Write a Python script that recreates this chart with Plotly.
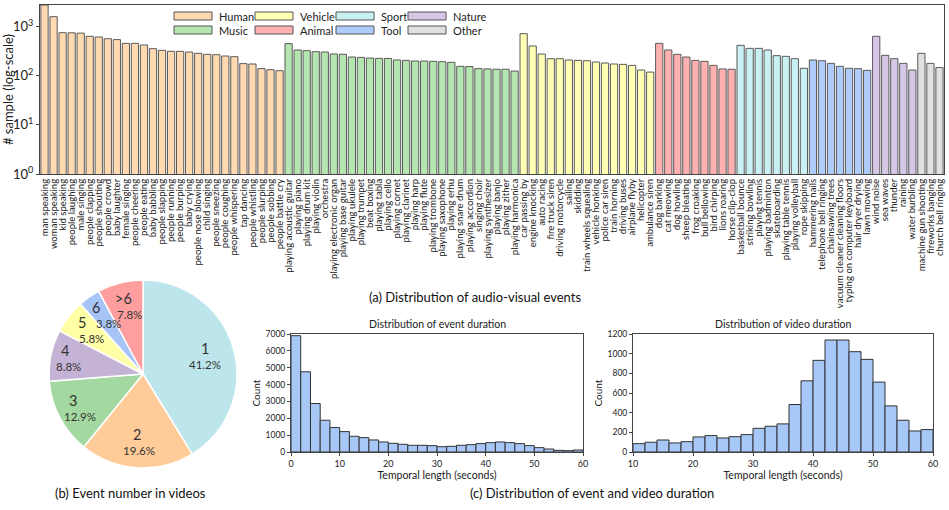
import math
import plotly.graph_objects as go

# ---------------- data ----------------
groups = ["Human", "Music", "Vehicle", "Animal", "Sport", "Tool", "Nature", "Other"]
group_colors = ["#FFD9B0", "#B5E6B1", "#FFFFB3", "#FFB1B1", "#C9F1F4", "#AFCBFA", "#D6C7E7", "#E0E0E0"]

human_events = ["man speaking", "woman speaking", "kid speaking", "people laughing", "male singing",
                "people clapping", "people shouting", "people crowd", "baby laughter", "female singing",
                "people cheering", "people eating", "baby babbling", "people slapping", "people running",
                "people burping", "baby crying", "people nose blowing", "child singing", "people sneezing",
                "people coughing", "people whispering", "tap dancing", "people whistling", "people slurping",
                "people sobbing", "people battle cry"]
human_counts = [2770, 1600, 755, 750, 740, 637, 617, 570, 545, 458, 458, 424, 357, 330, 315,
                315, 305, 287, 274, 269, 253, 245, 177, 174, 140, 133, 127]

music_events = ["playing acoustic guitar", "playing piano", "playing drum kit", "playing violin", "orchestra",
                "playing electronic organ", "playing base guitar", "playing ukulele", "playing trumpet",
                "beat boxing", "playing tabla", "playing cello", "playing cornet", "playing clarinet",
                "playing harp", "playing flute", "playing trombone", "playing saxophone", "playing erhu",
                "playing snare drum", "playing accordion", "singing choir", "playing synthesizer",
                "playing banjo", "playing zither", "playing harmonica"]
music_counts = [451, 335, 325, 310, 305, 278, 274, 241, 237, 230, 226, 226, 210, 206,
                200, 200, 197, 194, 188, 156, 154, 140, 138, 136, 136, 125]

vehicle_events = ["car passing by", "engine knocking", "auto racing", "fire truck siren", "driving motorcycle",
                  "sailing", "skidding", "train wheels squealing", "vehicle honking", "police car siren",
                  "train horning", "driving buses", "airplane flyby", "helicopter", "ambulance siren"]
vehicle_counts = [721, 405, 278, 223, 223, 210, 206, 203, 191, 182, 174, 171, 163, 131, 119]

animal_events = ["dog barking", "cat meowing", "dog howling", "sheep bleating", "frog croaking",
                 "bull bellowing", "bird chirping", "lions roaring", "horse clip-clop"]
animal_counts = [458, 335, 274, 241, 206, 197, 163, 138, 136]

sport_events = ["basketball bounce", "striking bowling", "playing tennis", "playing badminton",
                "skateboarding", "playing table tennis", "playing volleyball", "rope skipping"]
sport_counts = [417, 362, 362, 335, 257, 249, 223, 142]

tool_events = ["hammering nails", "telephone bell ringing", "chainsawing trees",
               "vacuum cleaner cleaning floors", "typing on computer keyboard", "hair dryer drying",
               "lawn mowing"]
tool_counts = [210, 203, 179, 156, 142, 140, 129]

nature_events = ["wind noise", "sea waves", "thunder", "raining", "water burbling"]
nature_counts = [637, 261, 223, 179, 131]

other_events = ["machine gun shooting", "fireworks banging", "church bell ringing"]
other_counts = [287, 179, 147]

group_events = [human_events, music_events, vehicle_events, animal_events,
                sport_events, tool_events, nature_events, other_events]
group_counts = [human_counts, music_counts, vehicle_counts, animal_counts,
                sport_counts, tool_counts, nature_counts, other_counts]

pie_labels = ["1", "2", "3", "4", "5", "6", ">6"]
pie_values = [41.2, 19.6, 12.9, 8.8, 5.8, 3.8, 7.8]
pie_colors = ["#BDE6EC", "#FFCC99", "#A3D9A0", "#C5B3D6", "#FFFFA6", "#A6C4F5", "#FF9E9E"]

event_bin_starts = list(range(0, 60, 2))
event_counts = [6900, 4760, 2875, 1884, 1448, 1210, 932, 853, 714, 595, 516, 456, 397, 397, 377,
                317, 337, 397, 436, 496, 555, 595, 555, 496, 377, 258, 178, 99, 79, 119]

video_bin_starts = list(range(10, 60, 2))
video_counts = [85, 99, 122, 92, 105, 153, 167, 143, 156, 177, 241, 262, 286, 483, 724,
                932, 1139, 1139, 1020, 942, 711, 469, 323, 214, 228]

hist_color = "#A7C7F7"

# ---------------- figure ----------------
W, H = 949, 510
FONT = "Lato"
fig = go.Figure()

all_events = [e for g in group_events for e in g]
for name, col, evs, cts in zip(groups, group_colors, group_events, group_counts):
    fig.add_trace(go.Bar(
        x=evs, y=cts, name=name, xaxis="x", yaxis="y",
        marker=dict(color=col, line=dict(color="#5a5a5a", width=1)),
        showlegend=False,
    ))

# pie: domain centred at (143, 374) px, radius ~94 px
PCX, PCY, PR = 143, 374, 94
fig.add_trace(go.Pie(
    labels=pie_labels, values=pie_values, sort=False, direction="clockwise", rotation=0,
    marker=dict(colors=pie_colors, line=dict(color="white", width=1.5)),
    textinfo="none",
    domain=dict(x=[(PCX - PR) / W, (PCX + PR) / W], y=[1 - (PCY + PR) / H, 1 - (PCY - PR) / H]),
    showlegend=False, hoverinfo="label+percent",
))

fig.add_trace(go.Bar(
    x=event_bin_starts, y=event_counts, width=2, offset=0, xaxis="x2", yaxis="y2",
    marker=dict(color=hist_color, line=dict(color="#333333", width=1)), showlegend=False,
))
fig.add_trace(go.Bar(
    x=video_bin_starts, y=video_counts, width=2, offset=0, xaxis="x3", yaxis="y3",
    marker=dict(color=hist_color, line=dict(color="#333333", width=1)), showlegend=False,
))

axis_line = dict(showline=True, linecolor="#444444", linewidth=1, mirror=True, showgrid=False,
                 zeroline=False, automargin=False)

fig.update_layout(
    template="none",
    width=W, height=H, margin=dict(l=0, r=0, t=0, b=0, pad=0, autoexpand=False),
    paper_bgcolor="white", plot_bgcolor="white",
    font=dict(family=FONT, color="#222222"),
    bargap=0.2,
    xaxis=dict(domain=[40 / W, 944 / W], anchor="y", type="category",
               categoryorder="array", categoryarray=all_events,
               tickmode="linear", dtick=1,
               tickangle=-90, tickfont=dict(size=9.6, color="#222222"), ticks="",
               **axis_line),
    yaxis=dict(domain=[1 - 174 / H, 1 - 5 / H], anchor="x", type="log", range=[0, 3.442],
               tickvals=[1, 10, 100, 1000],
               ticktext=["10<sup>0</sup>", "10<sup>1</sup>", "10<sup>2</sup>", "10<sup>3</sup>"],
               tickfont=dict(size=13), ticks="outside", ticklen=3, tickcolor="#444444",
               title=dict(text="# sample (log-scale)", font=dict(size=13), standoff=0),
               **axis_line),
    xaxis2=dict(domain=[291 / W, 583 / W], anchor="y2", range=[0, 60], dtick=10,
                tickfont=dict(size=9), ticks="outside", ticklen=3, tickcolor="#444444",
                title=dict(text="Temporal length (seconds)", font=dict(size=10.5), standoff=2),
                **axis_line),
    yaxis2=dict(domain=[1 - 452 / H, 1 - 334 / H], anchor="x2", range=[0, 7000], dtick=1000,
                tickfont=dict(size=8.5), ticks="outside", ticklen=3, tickcolor="#444444",
                title=dict(text="Count", font=dict(size=10), standoff=3),
                **axis_line),
    xaxis3=dict(domain=[633 / W, 933 / W], anchor="y3", range=[10, 60], dtick=10,
                tickfont=dict(size=9), ticks="outside", ticklen=3, tickcolor="#444444",
                title=dict(text="Temporal length (seconds)", font=dict(size=10.5), standoff=2),
                **axis_line),
    yaxis3=dict(domain=[1 - 452 / H, 1 - 334 / H], anchor="x3", range=[0, 1200], dtick=200,
                tickfont=dict(size=8.5), ticks="outside", ticklen=3, tickcolor="#444444",
                title=dict(text="Count", font=dict(size=10), standoff=3),
                **axis_line),
)

annotations = [
    dict(text="(a) Distribution of audio-visual events", x=475 / W, y=1 - 297 / H,
         font=dict(size=13, color="#111111")),
    dict(text="(b) Event number in videos", x=130 / W, y=1 - 493 / H,
         font=dict(size=13, color="#111111")),
    dict(text="(c) Distribution of event and video duration", x=592 / W, y=1 - 493 / H,
         font=dict(size=13, color="#111111")),
    dict(text="Distribution of event duration", x=437 / W, y=1 - 324 / H,
         font=dict(size=10.5, color="#222222")),
    dict(text="Distribution of video duration", x=783 / W, y=1 - 324 / H,
         font=dict(size=10.5, color="#222222")),
]
for a in annotations:
    a.update(xref="paper", yref="paper", showarrow=False, xanchor="center", yanchor="middle")

# pie slice labels placed at the angular middle of each slice (derived from the values)
total = sum(pie_values)
cum = 0.0
label_r = [0.68, 0.73, 0.80, 0.83, 0.76, 0.76, 0.74]
pct_shift = [0, 2, 7, 4, 10, 12, 6]   # horizontal offset (px) between number and percent
for lab, val, rf, sh in zip(pie_labels, pie_values, label_r, pct_shift):
    mid = (cum + val / 2) / total * 2 * math.pi
    cum += val
    px = PCX + rf * PR * math.sin(mid)
    py = PCY - rf * PR * math.cos(mid)
    annotations.append(dict(
        text=lab, x=(px - sh / 2) / W, y=1 - (py - 8) / H, xref="paper", yref="paper",
        showarrow=False, xanchor="center", yanchor="middle",
        font=dict(size=14.5, color="#333333")))
    annotations.append(dict(
        text=f"{val:.1f}%", x=(px + sh / 2) / W, y=1 - (py + 8) / H, xref="paper", yref="paper",
        showarrow=False, xanchor="center", yanchor="middle",
        font=dict(size=11.5, color="#333333")))

# manual legend (4 columns x 2 rows, column-major)
col_x = [174, 255, 336, 408]
row_y = [16, 30]
shapes = []
for i, (name, col) in enumerate(zip(groups, group_colors)):
    c, r = i // 2, i % 2
    x0 = col_x[c]
    y0 = row_y[r]
    shapes.append(dict(type="rect", xref="paper", yref="paper",
                       x0=x0 / W, x1=(x0 + 38) / W, y0=1 - (y0 + 4) / H, y1=1 - (y0 - 4) / H,
                       fillcolor=col, line=dict(color="#555555", width=1)))
    annotations.append(dict(text=name, xref="paper", yref="paper", showarrow=False,
                            x=(x0 + 43) / W, y=1 - y0 / H, xanchor="left", yanchor="middle",
                            font=dict(size=11, color="#222222")))

fig.update_layout(annotations=annotations, shapes=shapes)

fig.write_html("out.html", config={"displayModeBar": False},
               post_script="document.body.style.margin='0';document.body.style.padding='0';")
